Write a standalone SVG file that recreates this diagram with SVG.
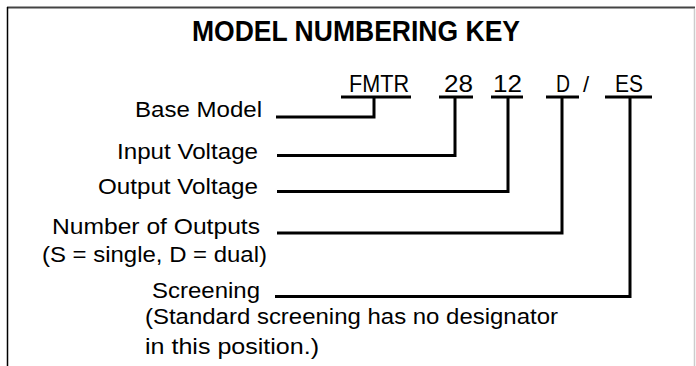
<svg xmlns="http://www.w3.org/2000/svg" width="696" height="366" viewBox="0 0 696 366">
<style>
text{font-family:"Liberation Sans",Arial,sans-serif;fill:#000}
.lbl{font-size:22px;text-anchor:end}
.note{font-size:22px}
.code{font-size:23px}
.title{font-size:29px;font-weight:bold}
.ln{fill:none;stroke:#000;stroke-width:3;stroke-linecap:butt;stroke-linejoin:miter}
</style>
<rect x="0" y="0" width="696" height="366" fill="#fff"/>
<g id="frame">
<line x1="7" y1="7.5" x2="695" y2="7.5" stroke="#444" stroke-width="2"/>
<line x1="7.5" y1="7" x2="7.5" y2="366" stroke="#000" stroke-width="1.5"/>
<line x1="694.5" y1="9" x2="694.5" y2="366" stroke="#ccc" stroke-width="1.5"/>
</g>
<g id="title"><text class="title" x="192" y="41" textLength="328" lengthAdjust="spacingAndGlyphs">MODEL NUMBERING KEY</text></g>
<g id="code">
<text class="code" x="349" y="92" textLength="60" lengthAdjust="spacingAndGlyphs">FMTR</text>
<text class="code" x="444" y="92" textLength="29" lengthAdjust="spacingAndGlyphs">28</text>
<text class="code" x="493" y="92" textLength="29" lengthAdjust="spacingAndGlyphs">12</text>
<text class="code" x="556" y="92" textLength="14" lengthAdjust="spacingAndGlyphs">D</text>
<text class="code" x="583" y="92" style="font-size:22px">/</text>
<text class="code" x="615" y="92" textLength="28" lengthAdjust="spacingAndGlyphs">ES</text>
</g>
<g id="base-model"><text class="lbl" x="262" y="117" textLength="127" lengthAdjust="spacingAndGlyphs">Base Model</text></g>
<g id="input-voltage"><text class="lbl" x="258" y="159" textLength="141" lengthAdjust="spacingAndGlyphs">Input Voltage</text></g>
<g id="output-voltage"><text class="lbl" x="258" y="194" textLength="160" lengthAdjust="spacingAndGlyphs">Output Voltage</text></g>
<g id="number-of-outputs">
<text class="lbl" x="260" y="234" textLength="208" lengthAdjust="spacingAndGlyphs">Number of Outputs</text>
<text class="note" x="42" y="262" textLength="225" lengthAdjust="spacingAndGlyphs">(S = single, D = dual)</text>
</g>
<g id="screening">
<text class="lbl" x="260" y="298" textLength="108" lengthAdjust="spacingAndGlyphs">Screening</text>
<text class="note" x="145" y="324" textLength="413" lengthAdjust="spacingAndGlyphs">(Standard screening has no designator</text>
<text class="note" x="145" y="354" textLength="174" lengthAdjust="spacingAndGlyphs">in this position.)</text>
</g>
<g id="connectors">
<line class="ln" x1="341" y1="97" x2="411" y2="97"/>
<line class="ln" x1="439" y1="97" x2="473" y2="97"/>
<line class="ln" x1="491" y1="97" x2="523" y2="97"/>
<line class="ln" x1="546" y1="97" x2="579" y2="97"/>
<line class="ln" x1="605" y1="97" x2="652" y2="97"/>
<polyline class="ln" points="276,117 374,117 374,97"/>
<polyline class="ln" points="277,155.5 455,155.5 455,97"/>
<polyline class="ln" points="277,191.5 508,191.5 508,97"/>
<polyline class="ln" points="277,233 562,233 562,97"/>
<polyline class="ln" points="275,296.5 630,296.5 630,97"/>
</g>
</svg>
